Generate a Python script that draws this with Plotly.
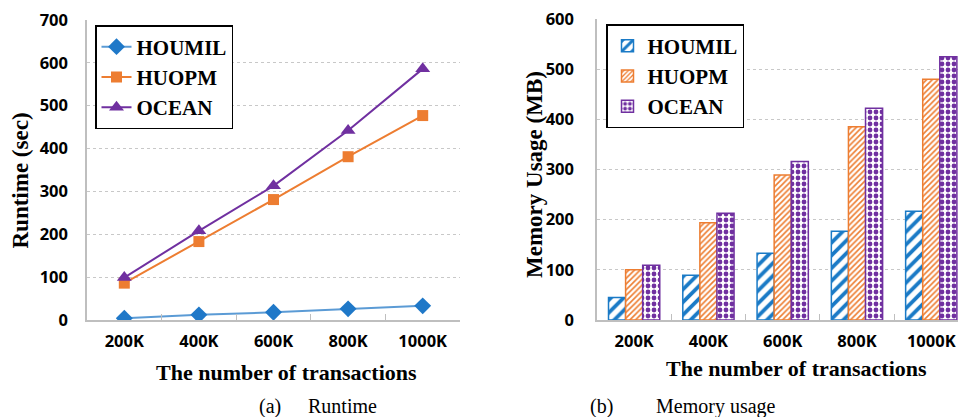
import plotly.graph_objects as go

# Transaction counts on the x axis
categories = ["200K", "400K", "600K", "800K", "1000K"]

# Runtime in seconds
runtime_houmil = [4, 12, 18, 26, 33]
runtime_huopm = [86, 183, 281, 381, 477]
runtime_ocean = [99, 208, 313, 442, 586]

# Memory usage in MB
memory_houmil = [45, 89, 133, 177, 217]
memory_huopm = [100, 194, 289, 385, 480]
memory_ocean = [109, 213, 316, 422, 525]

W, H = 958, 417
BLUE_LINE = "#5B9BD5"
BLUE = "#1F78C8"
BAR_BLUE = "#1A7AC6"
ORANGE = "#ED7D31"
PURPLE = "#7030A0"
SERIF = "Liberation Serif"
SANS = "Open Sans"


def px_x(p):
    return p / W


def px_y(p):
    return 1 - p / H


fig = go.Figure()

# (a) runtime lines
fig.add_trace(go.Scatter(
    x=categories, y=runtime_houmil, name="HOUMIL", mode="lines+markers",
    line=dict(color=BLUE_LINE, width=2),
    marker=dict(symbol="diamond", size=13, color=BLUE),
    xaxis="x", yaxis="y", legend="legend"))
fig.add_trace(go.Scatter(
    x=categories, y=runtime_huopm, name="HUOPM", mode="lines+markers",
    line=dict(color=ORANGE, width=2),
    marker=dict(symbol="square", size=11, color=ORANGE),
    xaxis="x", yaxis="y", legend="legend"))
fig.add_trace(go.Scatter(
    x=categories, y=runtime_ocean, name="OCEAN", mode="lines+markers",
    line=dict(color=PURPLE, width=2),
    marker=dict(symbol="triangle-up", size=13, color=PURPLE),
    xaxis="x", yaxis="y", legend="legend"))

# (b) memory bars with hatch patterns
bar_styles = [
    ("HOUMIL", memory_houmil, BAR_BLUE, dict(shape="/", size=9, solidity=0.42)),
    ("HUOPM", memory_huopm, ORANGE, dict(shape="/", size=4, solidity=0.4)),
    ("OCEAN", memory_ocean, PURPLE, dict(shape=".", size=6, solidity=0.5)),
]
for name, vals, col, pat in bar_styles:
    fig.add_trace(go.Bar(
        x=categories, y=vals, name=name,
        marker=dict(
            color="white",
            line=dict(color=col, width=1.5),
            pattern=dict(fillmode="replace", bgcolor="white", fgcolor=col, **pat),
        ),
        xaxis="x2", yaxis="y2", legend="legend2"))

axis_line = "#BFBFBF"
grid = dict(showgrid=True, gridcolor="#C8C8C8", griddash="3px,3px", gridwidth=1)
tickfont = dict(family=SANS, size=16.5, color="black", weight="bold")
xcommon = dict(type="category", showline=True, linecolor=axis_line, linewidth=1.5,
               ticks="inside", tickson="boundaries", ticklen=6, tickcolor=axis_line,
               tickfont=tickfont, showgrid=False, zeroline=False, fixedrange=True,
               automargin=False, ticklabelstandoff=5)
ycommon = dict(showline=True, linecolor=axis_line, linewidth=1.5, ticks="",
               tickfont=tickfont, zeroline=False, automargin=False, fixedrange=True,
               dtick=100, **grid)

legend_font = dict(family=SERIF, size=21, color="black", weight="bold")
fig.update_layout(
    template="none",
    width=W, height=H,
    margin=dict(l=0, r=0, t=0, b=0, pad=0, autoexpand=False),
    paper_bgcolor="white", plot_bgcolor="white",
    bargap=0.31, bargroupgap=0,
    xaxis=dict(domain=[px_x(87), px_x(460)], range=[-0.5, 4.5], anchor="y", **xcommon),
    yaxis=dict(domain=[px_y(320), px_y(20)], range=[0, 700], anchor="x",
               ticklabelstandoff=14, **ycommon),
    xaxis2=dict(domain=[px_x(597), 1.0], range=[-0.5, 4.36], anchor="y2", **xcommon),
    yaxis2=dict(domain=[px_y(320), px_y(19)], range=[0, 600], anchor="x2",
                ticklabelstandoff=18, **ycommon),
    legend=dict(x=px_x(95), y=px_y(25), xanchor="left", yanchor="top",
                bordercolor="black", borderwidth=1.5, bgcolor="white",
                font=legend_font, itemwidth=30, tracegroupgap=0),
    legend2=dict(x=px_x(606), y=px_y(24), xanchor="left", yanchor="top",
                 bordercolor="black", borderwidth=1.5, bgcolor="white",
                 font=legend_font, itemwidth=30, tracegroupgap=0),
)

ytitle_font = dict(family=SERIF, size=23, color="black", weight="bold")
xtitle_font = dict(family=SERIF, size=22, color="black", weight="bold")
caption_font = dict(family=SERIF, size=20, color="black")
annotations = [
    dict(text="Runtime (sec)", x=px_x(19.5), y=px_y(181), textangle=-90, font=ytitle_font),
    dict(text="The number of transactions", x=px_x(286.5), y=px_y(372), font=xtitle_font),
    dict(text="Memory Usage (MB)", x=px_x(534), y=px_y(175), textangle=-90, font=ytitle_font),
    dict(text="The number of transactions", x=px_x(796), y=px_y(368), font=xtitle_font),
    dict(text="(a)", x=px_x(270), y=px_y(406), font=caption_font),
    dict(text="Runtime", x=px_x(342.5), y=px_y(406), font=caption_font),
    dict(text="(b)", x=px_x(601), y=px_y(406), font=caption_font),
    dict(text="Memory usage", x=px_x(716), y=px_y(406), font=caption_font),
]
for a in annotations:
    a.update(xref="paper", yref="paper", showarrow=False, xanchor="center", yanchor="middle")
fig.update_layout(annotations=annotations)

fig.write_html("out.html")
